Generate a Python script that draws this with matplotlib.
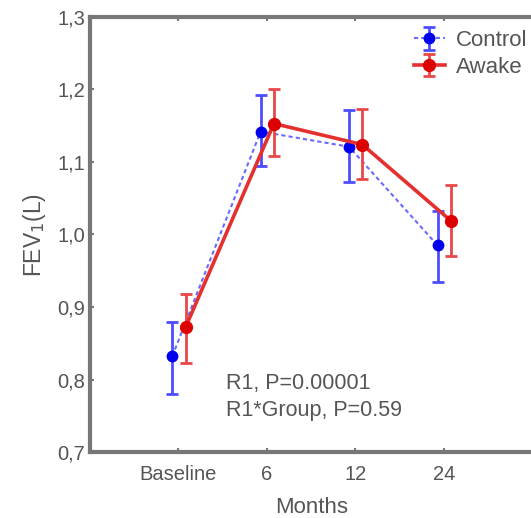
import matplotlib
matplotlib.use("Agg")
import matplotlib.pyplot as plt
from matplotlib.ticker import FuncFormatter

plt.rcParams['font.family'] = ['Liberation Sans', 'DejaVu Sans']

# data
months = ['Baseline', '6', '12', '24']
control_mean = [0.832, 1.142, 1.121, 0.985]
control_lo = [0.780, 1.095, 1.072, 0.935]
control_hi = [0.880, 1.193, 1.172, 1.033]
awake_mean = [0.872, 1.153, 1.124, 1.019]
awake_lo = [0.823, 1.108, 1.077, 0.970]
awake_hi = [0.918, 1.200, 1.173, 1.068]

txt_col = '#555555'
frame_col = '#777777'

fig = plt.figure(figsize=(5.31, 5.18), dpi=100)
ax = fig.add_axes([0.1695, 0.1274, 0.836, 0.8398])

xs = range(1, len(months) + 1)
xc = [x - 0.07 for x in xs]
xa = [x + 0.08 for x in xs]

def err(mean, lo, hi):
    return [[m - l for m, l in zip(mean, lo)], [h - m for m, h in zip(mean, hi)]]

ax.errorbar(xc, control_mean, yerr=err(control_mean, control_lo, control_hi),
            color='#6a6aff', ls=(0, (2, 1.5)), lw=1.5, marker='o', ms=7.5,
            mfc='#0000ee', mec='#0000ee',
            ecolor='#4d4dff', elinewidth=2, capsize=4, capthick=2, label='Control', zorder=3)
ax.errorbar(xa, awake_mean, yerr=err(awake_mean, awake_lo, awake_hi),
            color='#e53030', ls='-', lw=2.6, marker='o', ms=8.5,
            mfc='#dd0000', mec='#dd0000',
            ecolor='#e84848', elinewidth=2, capsize=4, capthick=2, label='Awake', zorder=4)

ax.set_xlim(0, 5.02)
ax.set_ylim(0.7, 1.3)
ax.set_xticks(list(xs))
ax.set_xticklabels(months)
ax.set_yticks([0.7, 0.8, 0.9, 1.0, 1.1, 1.2, 1.3])
ax.yaxis.set_major_formatter(FuncFormatter(lambda v, p: ('%.1f' % v).replace('.', ',')))
ax.tick_params(direction='in', length=3, color=frame_col, labelcolor=txt_col,
               labelsize=14.5, top=True, width=1.5)
ax.tick_params(axis='x', pad=9)
for s in ax.spines.values():
    s.set_color(frame_col)
    s.set_linewidth(3)

ax.set_xlabel('Months', color=txt_col, fontsize=16, labelpad=10)
ax.set_ylabel('FEV$_1$(L)', color=txt_col, fontsize=16.5, labelpad=7)

ax.text(1.54, 0.795, 'R1, P=0.00001', color=txt_col, fontsize=15.5, va='center')
ax.text(1.54, 0.757, 'R1*Group, P=0.59', color=txt_col, fontsize=15.5, va='center')

leg = ax.legend(loc='upper right', frameon=False, fontsize=16, handlelength=1.4,
                handletextpad=0.5, borderaxespad=0.1, labelspacing=0.25,
                bbox_to_anchor=(1.01, 0.995))
for t in leg.get_texts():
    t.set_color(txt_col)

fig.savefig('out.png', dpi=100)
